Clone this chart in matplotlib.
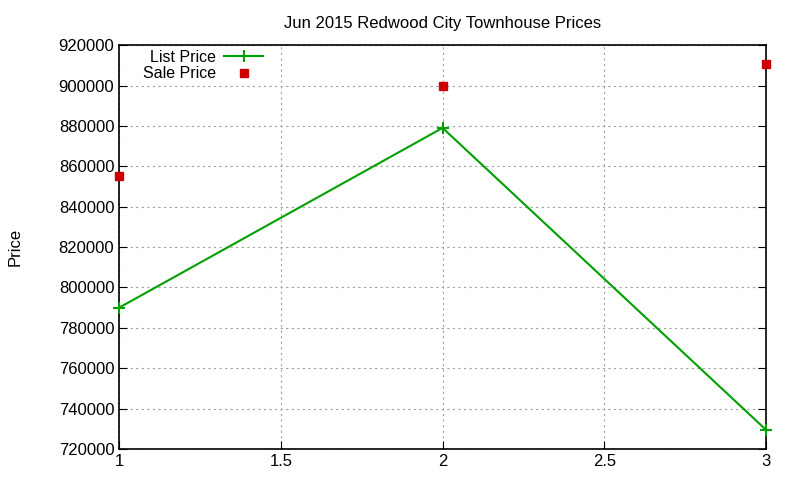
import matplotlib
matplotlib.use('Agg')
import matplotlib.pyplot as plt

x = [1, 2, 3]
list_price = [790000, 879000, 729500]
sale_price = [855000, 900000, 910500]

plt.rcParams['font.family'] = ['Liberation Sans', 'DejaVu Sans']

fig = plt.figure(figsize=(8, 4.8), dpi=100)
ax = fig.add_axes([0.149, 0.0646, 0.8085, 0.8414])

ax.plot(x, list_price, color='#00a000', linewidth=1.5, marker='+', markersize=8,
        markeredgewidth=1.5, label='List Price', clip_on=False, zorder=3)
ax.plot(x, sale_price, linestyle='none', marker='s', color='#cc0000', markersize=6,
        label='Sale Price', clip_on=False, zorder=3)

ax.set_xlim(1, 3)
ax.set_ylim(720000, 920000)
ax.set_xticks([1, 1.5, 2, 2.5, 3])
ax.set_xticklabels(['1', '1.5', '2', '2.5', '3'])
ax.set_yticks(range(720000, 920001, 20000))
ax.set_yticklabels([str(v) for v in range(720000, 920001, 20000)])
ax.tick_params(direction='in', labelsize=12, length=6, top=True, right=True)
ax.tick_params(axis='x', top=False)
ax.grid(True, color='#a0a0a0', linestyle=(0, (2, 3)), linewidth=0.8)
for s in ax.spines.values():
    s.set_linewidth(1.2)

ax.set_title('Jun 2015 Redwood City Townhouse Prices', fontsize=12, pad=12)
ax.set_ylabel('Price', fontsize=12, labelpad=26)

ax.legend(loc='upper left', bbox_to_anchor=(0.02, 1.016), frameon=False, markerfirst=False,
          fontsize=11.5, handlelength=2.4, handletextpad=0.5, labelspacing=0.1,
          borderaxespad=0.3)

fig.savefig('out.png', dpi=100)
